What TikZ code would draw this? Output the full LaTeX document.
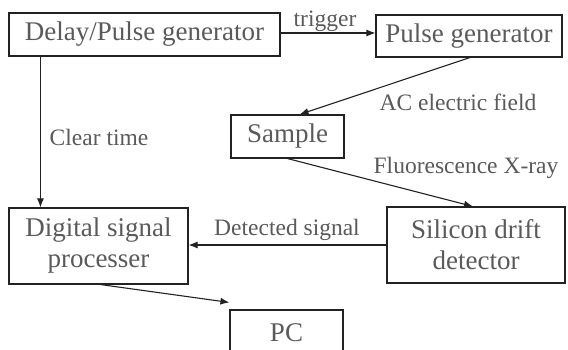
\documentclass[tikz,border=0pt]{standalone}
\usepackage{fontspec}
\setmainfont{Liberation Serif}
\usetikzlibrary{arrows.meta}
\definecolor{txtgray}{HTML}{5A5A5A}
\definecolor{linegray}{HTML}{222222}
\begin{document}
\begin{tikzpicture}[x=1pt,y=-1pt,
  box/.style={draw=linegray,line width=1.1pt,rectangle,inner sep=0pt,
    text=txtgray,font=\fontsize{27}{31}\selectfont,align=center},
  lbl/.style={text=txtgray,font=\fontsize{23.5}{25}\selectfont,inner sep=0pt},
  conn/.style={draw=linegray,line width=1.1pt,-{Latex[length=9pt,width=7pt]}}]
\clip (0,0) rectangle (568,350);
\fill[white] (0,0) rectangle (568,350);
\node[box,minimum width=271pt,minimum height=43pt] (dpg) at (144.5,34.5) {Delay/Pulse generator};
\node[box,minimum width=186pt,minimum height=42pt] (pg) at (469,36) {Pulse generator};
\node[box,minimum width=113pt,minimum height=43pt] (sample) at (287.5,136.5) {Sample};
\node[box,minimum width=179pt,minimum height=76pt] (dsp) at (98.5,246) {Digital signal\\processer};
\node[box,minimum width=178pt,minimum height=76pt] (sdd) at (476,245) {Silicon drift\\detector};
\node[box,minimum width=113pt,minimum height=50pt] (pc) at (286.5,335) {};
\node[text=txtgray,font=\fontsize{27}{29}\selectfont,inner sep=0pt] (pct) at (286.5,333) {PC};
\node[lbl] (ltrig) at (325,21) {trigger};
\node[lbl] (lac) at (458,102) {AC electric field};
\node[lbl] (lclear) at (99,137) {Clear time};
\node[lbl] (lfluo) at (466,168) {Fluorescence X-ray};
\node[lbl] (ldet) at (287,230) {Detected signal};
\draw[conn] ([yshift=1.5pt]dpg.east) -- ([yshift=1.5pt]dpg.east -| pg.west);
\draw[conn] ([xshift=1pt]pg.south) -- ([xshift=12pt]sample.north);
\draw[conn] ([xshift=32pt]dpg.south west) -- ([xshift=32pt]dsp.north west);
\draw[conn] (sample.south) -- ([xshift=-3pt]sdd.north);
\draw[conn] (sdd.west) -- (sdd.west -| dsp.east);
\draw[conn] ([xshift=2pt]dsp.south) -- ([yshift=7pt]pc.north west);
\end{tikzpicture}
\end{document}
